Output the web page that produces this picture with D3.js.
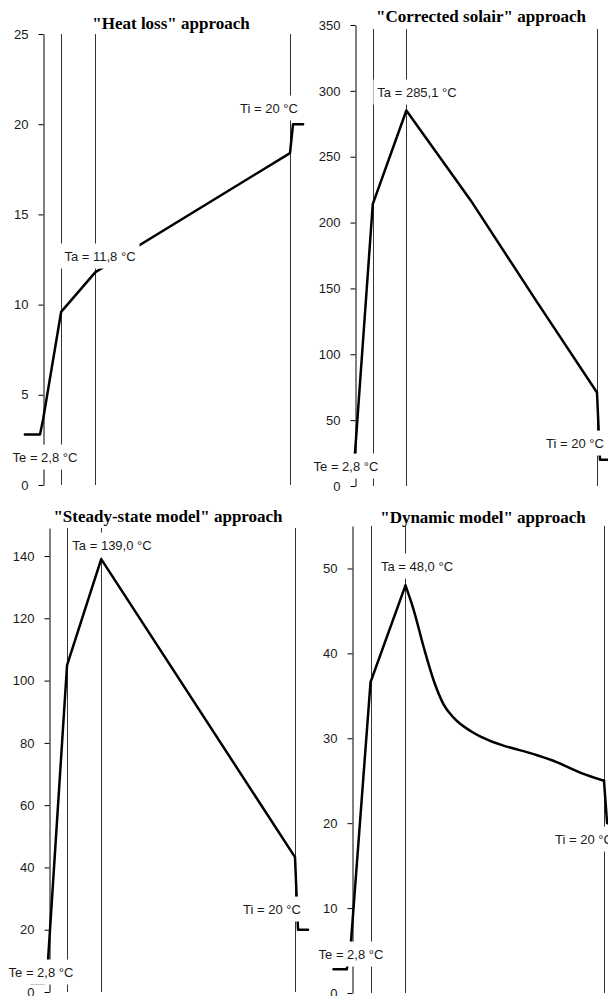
<!DOCTYPE html>
<html>
<head>
<meta charset="utf-8">
<script src="https://cdn.jsdelivr.net/npm/d3@7"></script>
<style>
  body { margin: 0; background: #fff; }
  svg { display: block; }
  .tick text, .lbl { font-family: "Liberation Sans", Arial, sans-serif; font-size: 13px; fill: #1a1a1a; }
  .title { font-family: "Liberation Serif", "Times New Roman", serif; font-weight: bold; font-size: 17px; fill: #000; }
</style>
</head>
<body>
<svg id="chart" width="608" height="996"></svg>
<script>
// panel titles
const titles = [
  '"Heat loss" approach',
  '"Corrected solair" approach',
  '"Steady-state model" approach',
  '"Dynamic model" approach'
];
// wall layer boundaries (cm from outer face)
const layerEdges = [0, 1.8, 5.2, 24.5];
const te = 2.8; // outside temperature
const ti = 20; // inside temperature
const taValues = [11.8, 285.1, 139.0, 48.0]; // temperature at absorber
// y axis per panel
const yMax = [25, 350, 149, 55];
const yStep = [5, 50, 20, 10];

// temperature profiles (position, value)
const posHeatLoss = [-1.8, -0.3, 0, 1.8, 5.2, 24.5, 24.8, 25.8];
const heatLoss = [2.8, 2.8, 3.6, 9.6, 11.8, 18.4, 20, 20];

const posSolair = [-1.8, -0.3, 0, 1.8, 5.2, 11.7, 18.4, 24.5, 24.8, 25.8];
const solair = [11, 11, 25, 214, 285.1, 217, 140, 71, 20, 20];

const posSteady = [-1.8, -0.5, -0.1, 1.8, 5.2, 24.5, 24.8, 25.8];
const steady = [2.8, 2.8, 10, 105, 139.0, 43.3, 20, 20];

const posDynamic = [-1.8, -0.5, -0.1, 1.8, 5.2, 6.0, 7.0, 8.0, 8.9, 9.9, 11.6, 12.5, 14.8, 15.7, 18.0, 19.9, 22.3, 24.5, 24.8, 25.8];
const dynamic = [2.8, 2.8, 6.0, 36.6, 48.0, 45.1, 40.6, 36.6, 34.0, 32.4, 30.8, 30.2, 29.1, 28.8, 28.0, 27.2, 25.9, 25.0, 20, 20];

const positions = [posHeatLoss, posSolair, posSteady, posDynamic];
const profiles = [heatLoss, solair, steady, dynamic];
// index range drawn as a smooth curve (only the dynamic model decay)
const smoothRange = [null, null, null, [4, 17]];

// layout of the four panels (pixels)
const layout = [
  { axisX: 43, lastX: 290, yTop: 34, yBot: 485, lineTop: 34, titleX: 171, titleY: 29,
    teAt: [45, 457], taAt: [100, 256], tiAt: [269, 108] },
  { axisX: 355, lastX: 597, yTop: 25, yBot: 486, lineTop: 29, titleX: 481, titleY: 22,
    teAt: [346, 466], taAt: [417, 92], tiAt: [575, 443] },
  { axisX: 49, lastX: 295, yTop: 528, yBot: 992, lineTop: 528, titleX: 168, titleY: 522,
    teAt: [41, 972], taAt: [112, 545], tiAt: [272, 909] },
  { axisX: 352, lastX: 604, yTop: 526, yBot: 993, lineTop: 526, titleX: 483, titleY: 523,
    teAt: [351, 954], taAt: [417, 566], tiAt: [584, 839] }
];

const fmt = (v) => d3.format(".1f")(v).replace(".", ",");
const svg = d3.select("#chart");

layout.forEach((p, i) => {
  const g = svg.append("g");
  const x = d3.scaleLinear().domain([0, layerEdges[3]]).range([p.axisX, p.lastX]);
  const y = d3.scaleLinear().domain([0, yMax[i]]).range([p.yBot, p.yTop]);

  // layer boundary lines
  g.selectAll(".edge")
    .data(layerEdges.slice(1))
    .enter()
    .append("line")
    .attr("x1", (d) => Math.round(x(d)) + 0.5)
    .attr("x2", (d) => Math.round(x(d)) + 0.5)
    .attr("y1", p.lineTop)
    .attr("y2", p.yBot)
    .attr("stroke", "#333")
    .attr("stroke-width", 1);

  // y axis
  const yAxis = d3.axisLeft(y)
    .tickValues(d3.range(0, yMax[i] + 1e-9, yStep[i]))
    .tickSize(5)
    .tickPadding(10)
    .tickSizeOuter(0);
  const gy = g.append("g")
    .attr("transform", `translate(${Math.round(p.axisX) + 0.5},0)`)
    .call(yAxis);
  gy.select(".domain").attr("stroke", "#000");
  gy.selectAll(".tick line").attr("stroke", "#000");
  gy.selectAll(".tick text").attr("font-family", null).attr("font-size", null);

  // temperature profile, split in pieces so only the decay is smoothed
  const pts = positions[i].map((d, k) => [d, profiles[i][k]]);
  const r = smoothRange[i];
  const pieces = r
    ? [[pts.slice(0, r[0] + 1), d3.curveLinear],
       [pts.slice(r[0], r[1] + 1), d3.curveMonotoneX],
       [pts.slice(r[1]), d3.curveLinear]]
    : [[pts, d3.curveLinear]];
  pieces.forEach(([seg, curve]) => {
    g.append("path")
      .datum(seg)
      .attr("fill", "none")
      .attr("stroke", "#000")
      .attr("stroke-width", 2.5)
      .attr("stroke-linejoin", "round")
      .attr("stroke-linecap", "round")
      .attr("d", d3.line().curve(curve).x((d) => x(d[0])).y((d) => y(d[1])));
  });

  // value labels with white background
  const labels = [
    { t: `Te = ${fmt(te)} °C`, at: p.teAt },
    { t: `Ta = ${fmt(taValues[i])} °C`, at: p.taAt },
    { t: `Ti = ${ti} °C`, at: p.tiAt }
  ];
  labels.forEach((l) => {
    const lg = g.append("g");
    const txt = lg.append("text")
      .attr("class", "lbl")
      .attr("x", l.at[0])
      .attr("y", l.at[1])
      .attr("dy", "0.35em")
      .attr("text-anchor", "middle")
      .text(l.t);
    const b = txt.node().getBBox();
    lg.insert("rect", "text")
      .attr("x", b.x - 4)
      .attr("y", b.y - 5)
      .attr("width", b.width + 8)
      .attr("height", b.height + 10)
      .attr("fill", "#fff");
  });

  // title
  g.append("text")
    .attr("class", "title")
    .attr("x", p.titleX)
    .attr("y", p.titleY)
    .attr("text-anchor", "middle")
    .text(titles[i]);
});
</script>
</body>
</html>
